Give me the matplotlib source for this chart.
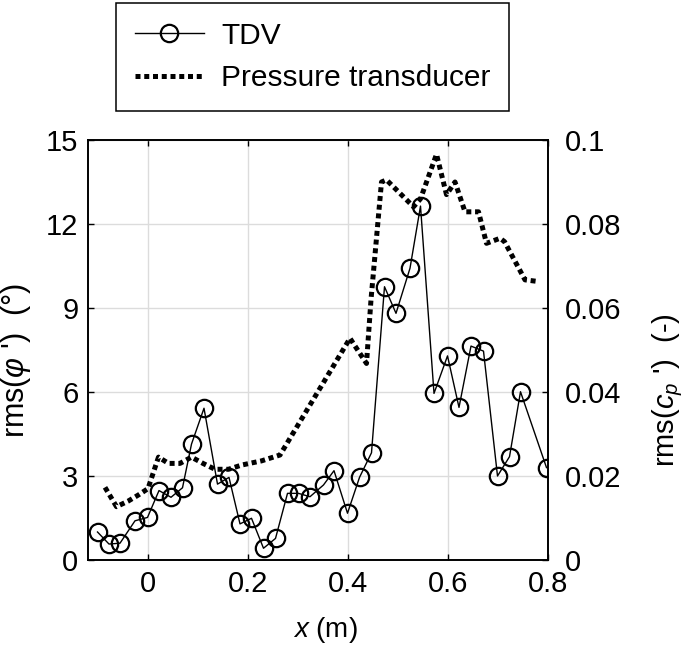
import matplotlib
matplotlib.use("Agg")
import matplotlib.pyplot as plt
from matplotlib.ticker import FuncFormatter

plt.rcParams['font.family'] = ['Liberation Sans', 'DejaVu Sans']
plt.rcParams['mathtext.fontset'] = 'custom'
plt.rcParams['mathtext.rm'] = 'Liberation Sans'
plt.rcParams['mathtext.it'] = 'Liberation Sans:italic'

### DATA
# TDV, rms(phi') in degrees (left axis)
tdv_x = [-0.101, -0.078, -0.056, -0.026, -0.001, 0.022, 0.046, 0.069, 0.087, 0.112,
         0.139, 0.162, 0.184, 0.207, 0.231, 0.255, 0.279, 0.301, 0.324, 0.351,
         0.372, 0.399, 0.423, 0.447, 0.473, 0.496, 0.524, 0.545, 0.572, 0.599,
         0.622, 0.646, 0.671, 0.699, 0.723, 0.745, 0.797]
tdv_y = [1.00, 0.57, 0.60, 1.40, 1.52, 2.48, 2.24, 2.58, 4.14, 5.42,
         2.71, 2.95, 1.29, 1.49, 0.42, 0.77, 2.38, 2.38, 2.26, 2.68,
         3.19, 1.67, 2.95, 3.83, 9.76, 8.81, 10.42, 12.64, 5.95, 7.29,
         5.45, 7.64, 7.46, 3.00, 3.69, 6.01, 3.30]

# pressure transducer, rms(cp') (right axis)
pt_x = [-0.086, -0.063, -0.040, -0.019, 0.000, 0.021, 0.041, 0.064, 0.087, 0.110,
        0.134, 0.161, 0.187, 0.227, 0.264, 0.404, 0.411, 0.437, 0.446, 0.467,
        0.477, 0.531, 0.545, 0.577, 0.597, 0.614, 0.634, 0.661, 0.677, 0.704,
        0.713, 0.754, 0.781]
pt_y = [0.0173, 0.0127, 0.0140, 0.0155, 0.0170, 0.0245, 0.0230, 0.0230, 0.0245, 0.0230,
        0.0216, 0.0216, 0.0226, 0.0236, 0.0250, 0.0528, 0.0515, 0.0468, 0.0620, 0.0900,
        0.0905, 0.0841, 0.0860, 0.0966, 0.0870, 0.0900, 0.0829, 0.0829, 0.0754, 0.0766,
        0.0758, 0.0667, 0.0663]

x_ticks = [0, 0.2, 0.4, 0.6, 0.8]
left_ticks = [0, 3, 6, 9, 12, 15]
right_ticks = [0, 0.02, 0.04, 0.06, 0.08, 0.1]

### PLOT
fig = plt.figure(figsize=(6.85, 6.47), dpi=100)
ax = fig.add_axes([88 / 685, 87 / 647, 460 / 685, 420 / 647])
ax2 = ax.twinx()

l1, = ax.plot(tdv_x, tdv_y, color='black', lw=1.0, marker='o', ms=12.5,
              mfc='none', mec='black', mew=1.6, label='TDV')
l2, = ax2.plot(pt_x, pt_y, color='black', lw=3.6, ls=(0, (1, 0.75)),
               dash_capstyle='butt', label='Pressure transducer')

ax.set_xlim(-0.12, 0.8)
ax.set_ylim(0, 15)
ax2.set_ylim(0, 0.1)
ax.set_xticks(x_ticks)
ax.set_yticks(left_ticks)
ax2.set_yticks(right_ticks)
fmt = FuncFormatter(lambda v, p: '%g' % v)
ax.xaxis.set_major_formatter(fmt)
ax2.yaxis.set_major_formatter(fmt)

ax.grid(True, color='#dcdcdc', lw=1.0)
ax.set_axisbelow(True)

ax.tick_params(axis='both', direction='in', length=4, width=1, labelsize=21,
               top=True, pad=7, colors='black')
ax.tick_params(axis='y', pad=7)
ax2.tick_params(axis='y', direction='in', length=4, width=1, labelsize=21, pad=12)

for a in (ax, ax2):
    for s in a.spines.values():
        s.set_linewidth(1.2)
        s.set_color('black')

ax.set_xlabel(r'$x$ (m)', fontsize=20)
ax.xaxis.set_label_coords(0.517, -0.13)
ax.set_ylabel(r"rms($\varphi$ ')  (°)", fontsize=22)
ax.yaxis.set_label_coords(-0.12, 0.476)
ax2.set_ylabel(r"rms($c_p$ ')  (-)", fontsize=21)
ax2.yaxis.set_label_coords(1.222, 0.405)

leg = ax.legend([l1, l2], ['TDV', 'Pressure transducer'], loc='upper left',
                bbox_to_anchor=(116 / 685, 1 - 3 / 647), bbox_transform=fig.transFigure,
                borderaxespad=0, fontsize=21.5, handlelength=2.34, handletextpad=0.57,
                borderpad=0.62, labelspacing=0.5, fancybox=False, framealpha=1,
                edgecolor='black')
leg.get_frame().set_linewidth(1.1)

fig.savefig('out.png', dpi=100)
